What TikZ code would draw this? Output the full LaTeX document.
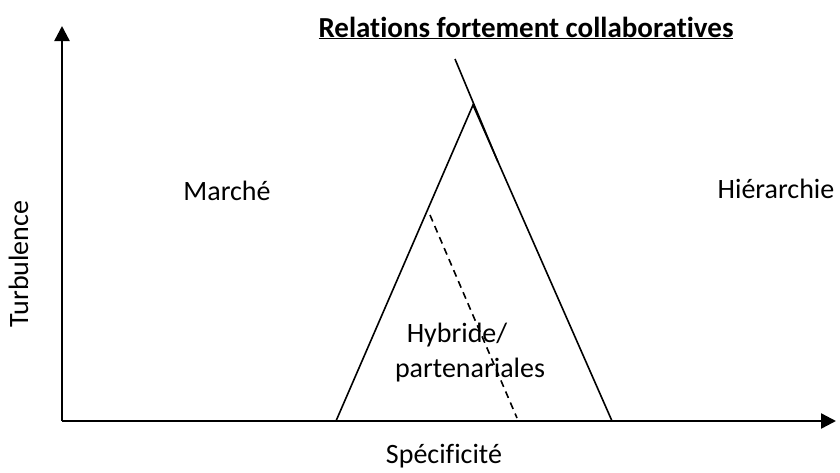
\documentclass[tikz,border=0pt]{standalone}
\usepackage{fontspec}
\setmainfont{Carlito}[Ligatures={NoCommon}]
\usetikzlibrary{arrows.meta}
\begin{document}
\begin{tikzpicture}[x=1pt,y=-1pt,
  lbl/.style={font=\fontsize{28}{34}\selectfont, inner sep=0pt, anchor=base},
  axis/.style={line width=2.4pt, -{Triangle[length=15pt,width=15pt]}},
  edge/.style={line width=1.6pt}]
\useasboundingbox (0,0) rectangle (840,472);
\coordinate (O) at (62,421);
\coordinate (ytip) at (62,26);
\coordinate (xtip) at (836,421);
\draw[axis] (O) -- (ytip);
\draw[axis] (O) -- (xtip);
\coordinate (bl) at (336,421);
\coordinate (ap) at (473,105);
\coordinate (br) at (612,421);
\draw[edge, line join=miter] (bl) -- (ap) -- (br);
\coordinate (t1) at (455,59);
\coordinate (t2) at (498,162);
\draw[edge] (t1) -- (t2);
\coordinate (d1) at (430,215);
\coordinate (d2) at (517,418);
\draw[edge, dash pattern=on 7pt off 5pt] (d1) -- (d2);
\node[lbl, font=\fontsize{29}{34}\selectfont\bfseries] (title) at (526,37) {\underline{Relations fortement collaboratives}};
\node[lbl] (m) at (227,200) {Marché};
\node[lbl] (h) at (776,198) {Hiérarchie};
\node[lbl, rotate=90] (tu) at (28,264) {Turbulence};
\node[lbl] (s) at (444,463) {Spécificité};
\node[lbl] (hy) at (457,342) {Hybride/};
\node[lbl] (pa) at (470,377) {partenariales};
\end{tikzpicture}
\end{document}
